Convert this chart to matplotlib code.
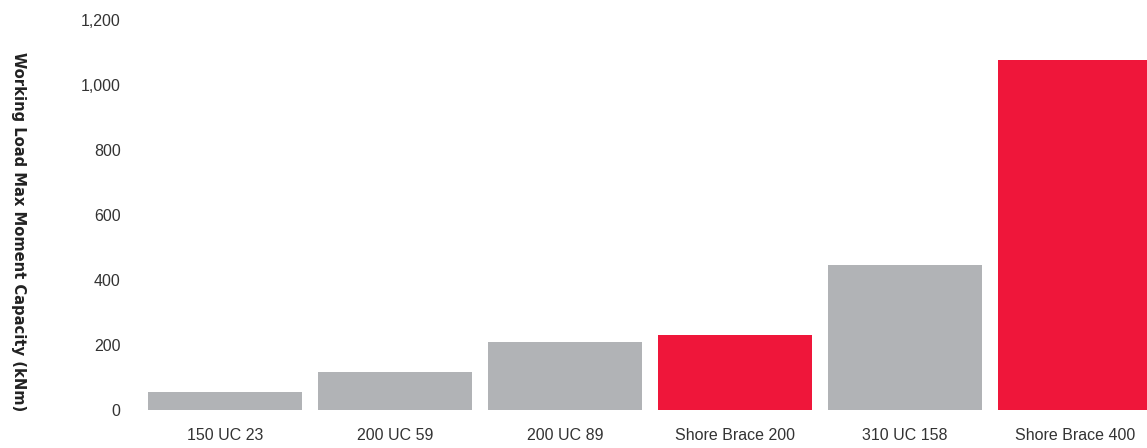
import matplotlib.pyplot as plt

# 値は画像から読み取った推定値
sections = ["150 UC 23", "200 UC 59", "200 UC 89", "Shore Brace 200", "310 UC 158", "Shore Brace 400"]
capacity = [55, 117, 209, 230, 445, 1078]
highlight = [False, False, False, True, False, True]

GREY = "#B1B3B6"
RED = "#EF163A"

plt.rcParams["font.family"] = ["Liberation Sans", "DejaVu Sans"]

fig = plt.figure(figsize=(11.47, 4.48), dpi=100)
ax = fig.add_axes([140 / 1147, 38 / 448, 1008 / 1147, 390 / 448])

colors = [RED if h else GREY for h in highlight]
ax.bar(range(len(sections)), capacity, width=0.906, color=colors)

ax.set_xlim(-0.5, 5.43)
ax.set_ylim(0, 1200)
ax.set_yticks(range(0, 1201, 200))
ax.set_yticklabels([f"{v:,}" for v in range(0, 1201, 200)])
ax.set_xticks(range(len(sections)))
ax.set_xticklabels(sections)

ax.tick_params(length=0, labelsize=11.5, colors="#333333")
ax.tick_params(axis="y", pad=14)
ax.tick_params(axis="x", pad=13)

for s in ax.spines.values():
    s.set_visible(False)

# y軸ラベル（上から下へ読む向き）
fig.text(18 / 1147, 216 / 448, "Working Load Max Moment Capacity (kNm)",
         rotation=270, ha="center", va="center", fontsize=11.8,
         fontweight="bold", fontstretch="condensed", color="#222222",
         family=["DejaVu Sans"])

fig.savefig("out.png", dpi=100)
